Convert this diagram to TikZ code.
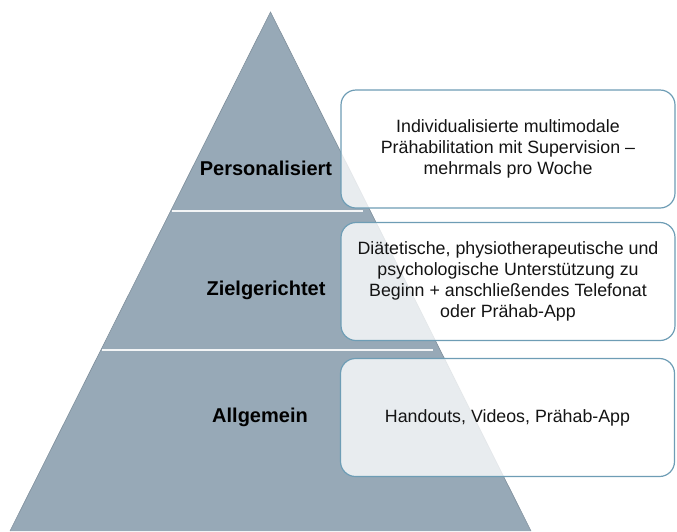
\documentclass[tikz,border=0pt]{standalone}
\usepackage{fontspec}
\setmainfont{Liberation Sans}
\begin{document}
\begin{tikzpicture}[x=1pt,y=-1pt,
  level/.style={font=\fontsize{20}{24}\selectfont\bfseries, text=black, anchor=center},
  infobox/.style={draw=boxedge, line width=1.2pt, fill=white, fill opacity=0.78, text opacity=1,
    rounded corners=15pt, minimum width=334pt, minimum height=118pt, align=center,
    font=\fontsize{17.8}{21}\selectfont, text=black!92, inner sep=0pt},
  divider/.style={draw=white!88!pyr, line width=2pt}
]
\definecolor{pyr}{HTML}{97A9B7}
\definecolor{boxedge}{HTML}{6E9DB5}
\useasboundingbox (0,0) rectangle (677,531);

% pyramid
\coordinate (apex) at (270.5,12);
\coordinate (bl) at (10,531);
\coordinate (br) at (531,531);
\fill[pyr] (apex) -- (br) -- (bl) -- cycle;
\draw[pyr!85!black, line width=0.6pt] (bl) -- (apex) -- (br);

% tier dividers
\coordinate (d1l) at (172,211);
\coordinate (d1r) at (363,211);
\coordinate (d2l) at (102,350);
\coordinate (d2r) at (433,350);
\draw[divider] (d1l) -- (d1r);
\draw[divider] (d2l) -- (d2r);

% tier labels
\node[level] (lp) at (266,168) {Personalisiert};
\node[level] (lz) at (266,290) {Zielgerichtet};
\node[level] (la) at (260,417) {Allgemein};

% descriptions
\node[infobox] (b1) at (508,149) {Individualisierte multimodale\\Prähabilitation mit Supervision –\\mehrmals pro Woche};
\node[infobox] (b2) at (508,281.5) {Diätetische, physiotherapeutische und\\psychologische Unterstützung zu\\Beginn + anschließendes Telefonat\\oder Prähab-App};
\node[infobox] (b3) at (507.5,417.5) {Handouts, Videos, Prähab-App};
\end{tikzpicture}
\end{document}
